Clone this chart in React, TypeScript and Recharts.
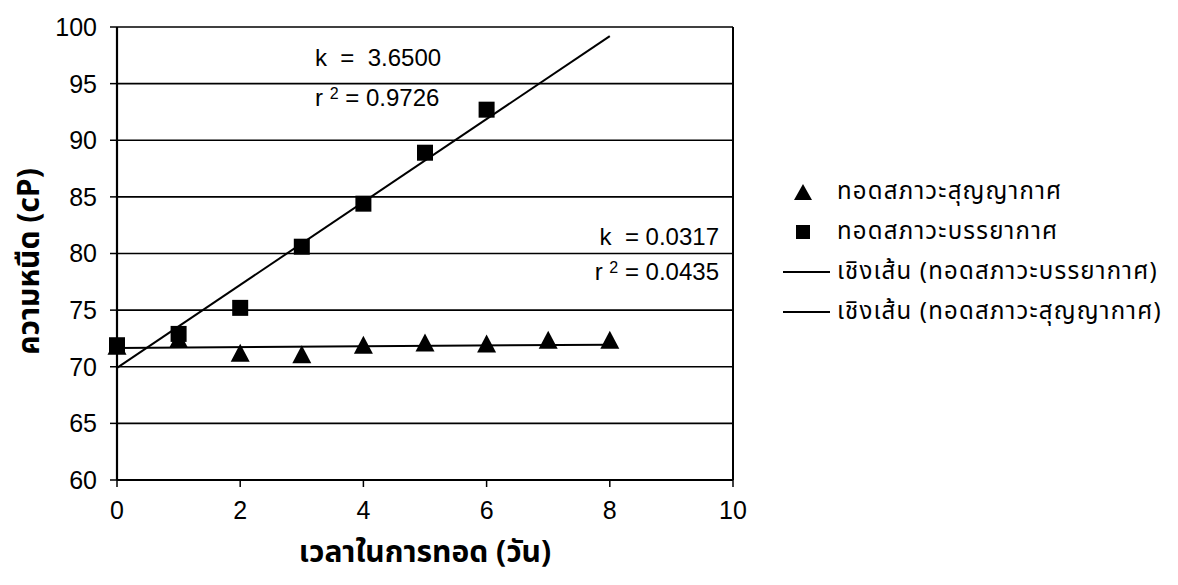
import React from 'react';
import { ScatterChart, Scatter, XAxis, YAxis, CartesianGrid, ReferenceLine, Label } from 'recharts';

const days = [0, 1, 2, 3, 4, 5, 6, 7, 8];
const vacuumValues = [71.8, 72.4, 71.2, 71.05, 71.9, 72.1, 72.0, 72.35, 72.35];
const atmDays = [0, 1, 2, 3, 4, 5, 6];
const atmValues = [71.9, 72.9, 75.2, 80.6, 84.4, 88.9, 92.7];
const trendDays = [0, 8];
const atmTrendValues = [69.9, 99.2];
const vacTrendValues = [71.65, 71.95];
const xTicks = [0, 2, 4, 6, 8, 10];
const yTicks = [60, 65, 70, 75, 80, 85, 90, 95, 100];

const legendLabels = [
  'ทอดสภาวะสุญญากาศ',
  'ทอดสภาวะบรรยากาศ',
  'เชิงเส้น (ทอดสภาวะบรรยากาศ)',
  'เชิงเส้น (ทอดสภาวะสุญญากาศ)',
];
const xTitle = 'เวลาในการทอด (วัน)';
const yTitle = 'ความหนืด (cP)';

const toPts = (xs: number[], ys: number[]) => xs.map((x, i) => ({ x, y: ys[i] }));
const vacuumData = toPts(days, vacuumValues);
const atmData = toPts(atmDays, atmValues);
const atmTrend = toPts(trendDays, atmTrendValues);
const vacTrend = toPts(trendDays, vacTrendValues);

const NUM_FONT = '"Liberation Sans", Arial, sans-serif';
const THAI_FONT = '"Noto Sans Thai", "Noto Sans Thai UI", Tahoma, "Noto Sans", "DejaVu Sans", sans-serif';

const Triangle = (props: any) => {
  const { cx, cy } = props;
  if (cx == null || cy == null) return <g />;
  return <polygon points={`${cx - 9.5},${cy + 8.5} ${cx + 9.5},${cy + 8.5} ${cx},${cy - 9.5}`} fill="#000" />;
};
const Square = (props: any) => {
  const { cx, cy } = props;
  if (cx == null || cy == null) return <g />;
  return <rect x={cx - 8} y={cy - 8} width={16} height={16} fill="#000" />;
};
const NoShape = () => <g />;

const YTitle = (props: any) => {
  const vb = props.viewBox || {};
  const cx = 30;
  const cy = (vb.y ?? 27) + (vb.height ?? 453) / 2 + 8;
  return (
    <text x={cx} y={cy} transform={`rotate(-90 ${cx} ${cy})`} textAnchor="middle" dominantBaseline="central"
      fill="#000" fontSize={30} fontWeight="bold" fontFamily={THAI_FONT}>
      {yTitle}
    </text>
  );
};

const XTitle = (props: any) => {
  const vb = props.viewBox || {};
  const cx = (vb.x ?? 117) + (vb.width ?? 616) / 2;
  const cy = 553;
  return (
    <text x={cx} y={cy} textAnchor="middle" dominantBaseline="central"
      fill="#000" fontSize={30} fontWeight="bold" fontFamily={THAI_FONT}>
      {xTitle}
    </text>
  );
};

const annStyle: React.CSSProperties = { position: 'absolute', fontFamily: NUM_FONT, fontSize: 24, color: '#000', lineHeight: '28px', whiteSpace: 'pre' };
const supStyle: React.CSSProperties = { fontSize: 16, verticalAlign: 'top', position: 'relative', top: -4 };

export default function App() {
  return (
    <div style={{ position: 'relative', width: 1178, height: 585, background: '#fff' }}>
      <style>{`body{margin:0;background:#fff}`}</style>
      <ScatterChart width={1178} height={585} margin={{ top: 27, right: 445, bottom: 0, left: 0 }}>
        <CartesianGrid vertical={false} stroke="#000" strokeWidth={1.6} />
        <XAxis
          type="number"
          dataKey="x"
          domain={[0, 10]}
          ticks={xTicks}
          height={105}
          tickSize={7}
          tickMargin={14}
          axisLine={{ stroke: '#000', strokeWidth: 2 }}
          tickLine={{ stroke: '#000', strokeWidth: 1.5 }}
          tick={{ fill: '#000', fontSize: 25, fontFamily: NUM_FONT }}
        >
          <Label content={XTitle} />
        </XAxis>
        <YAxis
          type="number"
          dataKey="y"
          domain={[60, 100]}
          ticks={yTicks}
          width={117}
          tickSize={7}
          tickMargin={13}
          axisLine={{ stroke: '#000', strokeWidth: 2.2 }}
          tickLine={{ stroke: '#000', strokeWidth: 1.5 }}
          tick={{ fill: '#000', fontSize: 25, fontFamily: NUM_FONT }}
        >
          <Label content={YTitle} />
        </YAxis>
        <ReferenceLine x={10} stroke="#000" strokeWidth={2} />
        <Scatter data={atmTrend} line={{ stroke: '#000', strokeWidth: 2 }} shape={NoShape} isAnimationActive={false} />
        <Scatter data={vacTrend} line={{ stroke: '#000', strokeWidth: 2 }} shape={NoShape} isAnimationActive={false} />
        <Scatter data={vacuumData} shape={Triangle} isAnimationActive={false} />
        <Scatter data={atmData} shape={Square} isAnimationActive={false} />
      </ScatterChart>

      <div style={{ ...annStyle, left: 315, top: 44 }}>{'k  =  3.6500'}</div>
      <div style={{ ...annStyle, left: 315, top: 84 }}>
        r <sup style={supStyle}>2</sup> = 0.9726
      </div>
      <div style={{ ...annStyle, right: 1178 - 719, top: 223, textAlign: 'right' }}>{'k  = 0.0317'}</div>
      <div style={{ ...annStyle, right: 1178 - 719, top: 258, textAlign: 'right' }}>
        r <sup style={supStyle}>2</sup> = 0.0435
      </div>

      <div style={{ position: 'absolute', left: 780, top: 172, fontFamily: THAI_FONT, fontSize: 24, letterSpacing: 1.2, color: '#000' }}>
        {legendLabels.map((lab, i) => (
          <div key={i} style={{ display: 'flex', alignItems: 'center', height: 40 }}>
            <svg width={52} height={22} style={{ marginRight: 5 }}>
              {i === 0 && <polygon points="14,19 32,19 23,3" fill="#000" />}
              {i === 1 && <rect x={16} y={4} width={14} height={14} fill="#000" />}
              {i >= 2 && <line x1={3} y1={11} x2={50} y2={11} stroke="#000" strokeWidth={2} />}
            </svg>
            <span style={{ whiteSpace: 'nowrap', lineHeight: '30px', display: 'block' }}>{lab}</span>
          </div>
        ))}
      </div>
    </div>
  );
}
